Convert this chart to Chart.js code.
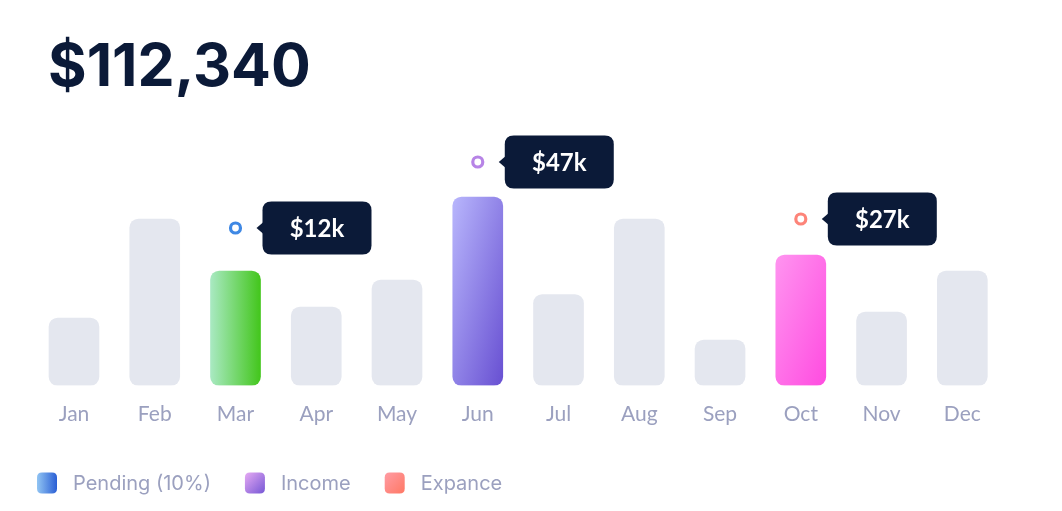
<!DOCTYPE html>
<html>
<head>
<meta charset="utf-8">
<script src="https://cdn.jsdelivr.net/npm/chart.js@4/dist/chart.umd.min.js"></script>
<style>
  html, body { margin: 0; padding: 0; background: #ffffff; }
  #wrap { width: 1062px; height: 511px; position: relative; }
</style>
</head>
<body>
<div id="wrap"><canvas id="c" width="1062" height="511"></canvas></div>
<script>
// ---- data ----
const months = ['Jan','Feb','Mar','Apr','May','Jun','Jul','Aug','Sep','Oct','Nov','Dec'];
const barValues = [67.5, 166.5, 114.5, 78.5, 105.5, 188.5, 91, 166.5, 45.5, 130.5, 73.5, 114.5];
const markerValues = [null, null, 157.5, null, null, 223.5, null, null, null, 166.5, null, null];
const tipLabels = [null, null, '$12k', null, null, '$47k', null, null, null, '$27k', null, null];
const legendLabels = ['Pending (10%)', 'Income', 'Expance'];
const totalLabel = '$112,340';

// ---- styles ----
const GRAY = '#e4e7ef';
const NAVY = '#0b1a38';
const TEXT_GRAY = '#9ba0bf';
const barGradients = {
  2: { stops: ['#a9e9c2', '#43c61c'], dir: 'h' },
  5: { stops: ['#b8b6fc', '#6850d2'], dir: 'd' },
  9: { stops: ['#ff94f0', '#ff4ce0'], dir: 'd' }
};
const markerColors = [null, null, '#3f88e4', null, null, '#b784e6', null, null, null, '#fd8479', null, null];
const legendGradients = [
  ['#92c5f3', '#2a5fd5', 'h'],
  ['#e6aaf3', '#7657d5', 'd'],
  ['#ff9ca4', '#ff7864', 'd']
];

// CSS-like "to right" / "to bottom right" gradient over a box
function boxGradient(ctx, x, y, w, h, dir, c0, c1) {
  let grad;
  if (dir === 'h') {
    grad = ctx.createLinearGradient(x, y, x + w, y);
  } else {
    const len = Math.hypot(h, w);
    const dx = h / len, dy = w / len;
    const L = (w / 2) * dx + (h / 2) * dy;
    const cx = x + w / 2, cy = y + h / 2;
    grad = ctx.createLinearGradient(cx - dx * L, cy - dy * L, cx + dx * L, cy + dy * L);
  }
  grad.addColorStop(0, c0);
  grad.addColorStop(1, c1);
  return grad;
}

function barColor(ctx) {
  const g = barGradients[ctx.dataIndex];
  if (!g) return GRAY;
  const chart = ctx.chart;
  if (!chart.chartArea || !chart.scales.x || !chart.scales.y) return g.stops[1];
  const cx = chart.scales.x.getPixelForValue(ctx.dataIndex);
  const top = chart.scales.y.getPixelForValue(barValues[ctx.dataIndex]);
  const bottom = chart.scales.y.getPixelForValue(0);
  return boxGradient(chart.ctx, cx - 25, top, 50, bottom - top, g.dir, g.stops[0], g.stops[1]);
}

function roundRect(ctx, x, y, w, h, r) {
  ctx.beginPath();
  ctx.moveTo(x + r, y);
  ctx.lineTo(x + w - r, y);
  ctx.quadraticCurveTo(x + w, y, x + w, y + r);
  ctx.lineTo(x + w, y + h - r);
  ctx.quadraticCurveTo(x + w, y + h, x + w - r, y + h);
  ctx.lineTo(x + r, y + h);
  ctx.quadraticCurveTo(x, y + h, x, y + h - r);
  ctx.lineTo(x, y + r);
  ctx.quadraticCurveTo(x, y, x + r, y);
  ctx.closePath();
}

const decorPlugin = {
  id: 'decor',
  afterDraw(chart) {
    const ctx = chart.ctx;
    ctx.save();
    // title
    ctx.fillStyle = NAVY;
    ctx.font = 'bold 59px Inter';
    ctx.textBaseline = 'alphabetic';
    ctx.textAlign = 'left';
    ctx.fillText(totalLabel, 48, 86);

    // tooltips
    const meta = chart.getDatasetMeta(1);
    meta.data.forEach((pt, i) => {
      if (!tipLabels[i] || markerValues[i] == null) return;
      const px = pt.x, py = pt.y;
      const bx = px + 27, bw = 109, bh = 53, by = py - bh / 2;
      ctx.fillStyle = NAVY;
      roundRect(ctx, bx, by, bw, bh, 9);
      ctx.fill();
      ctx.beginPath();
      ctx.moveTo(bx + 1, py - 6);
      ctx.lineTo(bx - 6, py);
      ctx.lineTo(bx + 1, py + 6);
      ctx.closePath();
      ctx.fill();
      ctx.fillStyle = '#ffffff';
      ctx.font = 'bold 24px Lato';
      ctx.textAlign = 'center';
      ctx.textBaseline = 'middle';
      ctx.fillText(tipLabels[i], bx + bw / 2, py + 1);
    });

    // legend
    ctx.font = '20px Inter';
    ctx.textAlign = 'left';
    ctx.textBaseline = 'alphabetic';
    let x = 37;
    const by = 472.5;
    legendLabels.forEach((lab, i) => {
      const [c0, c1, dir] = legendGradients[i];
      ctx.fillStyle = boxGradient(ctx, x, by, 20, 21, dir, c0, c1);
      roundRect(ctx, x, by, 20, 21, 5);
      ctx.fill();
      ctx.fillStyle = TEXT_GRAY;
      ctx.fillText(lab, x + 36, 490);
      x = x + 36 + ctx.measureText(lab).width + 34;
    });
    ctx.restore();
  }
};

new Chart(document.getElementById('c'), {
  data: {
    labels: months,
    datasets: [
      {
        type: 'bar',
        data: barValues,
        backgroundColor: barColor,
        borderRadius: 9,
        borderSkipped: false,
        barThickness: 50,
        order: 2
      },
      {
        type: 'line',
        data: markerValues,
        showLine: false,
        pointRadius: 5,
        pointHoverRadius: 5,
        pointBorderWidth: 3.2,
        pointBackgroundColor: '#ffffff',
        pointBorderColor: markerColors,
        order: 1
      }
    ]
  },
  options: {
    responsive: false,
    animation: false,
    events: [],
    layout: { padding: { top: 130, left: 33.6, right: 59.3, bottom: 68.3 } },
    plugins: { legend: { display: false }, tooltip: { enabled: false } },
    scales: {
      x: {
        offset: true,
        grid: { display: false, drawTicks: false },
        border: { display: false },
        ticks: { color: TEXT_GRAY, font: { family: 'Lato', size: 21 }, padding: 16 }
      },
      y: {
        display: false,
        min: 0,
        max: 255.5
      }
    }
  },
  plugins: [decorPlugin]
});
</script>
</body>
</html>
